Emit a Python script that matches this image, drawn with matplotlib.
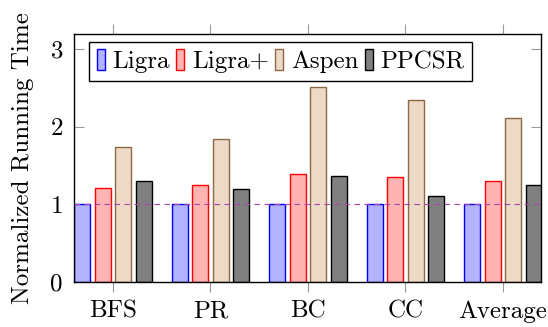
import matplotlib
matplotlib.use('Agg')
import matplotlib.pyplot as plt
import numpy as np

plt.rcParams['font.family'] = 'serif'
plt.rcParams['font.serif'] = ['cmr10']
plt.rcParams['mathtext.fontset'] = 'cm'
plt.rcParams['axes.formatter.use_mathtext'] = True

categories = ['BFS', 'PR', 'BC', 'CC', 'Average']
systems = ['Ligra', 'Ligra+', 'Aspen', 'PPCSR']
ligra = [1.0, 1.0, 1.0, 1.0, 1.0]
ligra_plus = [1.21, 1.25, 1.39, 1.35, 1.30]
aspen = [1.74, 1.84, 2.51, 2.34, 2.11]
ppcsr = [1.30, 1.20, 1.36, 1.11, 1.25]

fills = ['#b3b3ff', '#ffb3b3', '#ecd9c6', '#808080']
edges = ['#0000ff', '#ff0000', '#8c6846', '#000000']

fig = plt.figure(figsize=(5.48, 3.27), dpi=100)
ax = fig.add_axes([74/548, 45/327, 467/548, 248/327])

x = np.arange(len(categories))
step = 0.211
width = 0.164
for i, (name, vals) in enumerate(zip(systems, [ligra, ligra_plus, aspen, ppcsr])):
    ax.bar(x + (i - 1.5) * step, vals, width, color=fills[i], edgecolor=edges[i],
           linewidth=1.0, label=name, zorder=2)

ax.axhline(1, color='#b040b0', linestyle=(0, (5, 4)), linewidth=0.8, zorder=3)

ax.set_xlim(-0.4, 4.39)
ax.set_ylim(0, 3.19)
ax.set_xticks(x)
ax.set_xticklabels(categories)
ax.set_yticks([0, 1, 2, 3])
ax.tick_params(axis='x', direction='out', length=7.2, pad=6, color='#999999', top=True,
               labelsize=18)
ax.tick_params(axis='y', direction='in', length=7.2, pad=8, color='#999999', right=True,
               labelsize=18)
ax.set_ylabel('Normalized Running Time', fontsize=18, labelpad=11)
for s in ax.spines.values():
    s.set_linewidth(1.0)

leg = ax.legend(ncol=4, loc='upper left', bbox_to_anchor=(15/467, 1 - 8/248),
                borderaxespad=0, fontsize=18, handlelength=0.33, handleheight=0.86,
                handletextpad=0.3, columnspacing=0.25, borderpad=0.3,
                fancybox=False, edgecolor='black', framealpha=1)
leg.get_frame().set_linewidth(1.0)

fig.savefig('out.png', dpi=100)
